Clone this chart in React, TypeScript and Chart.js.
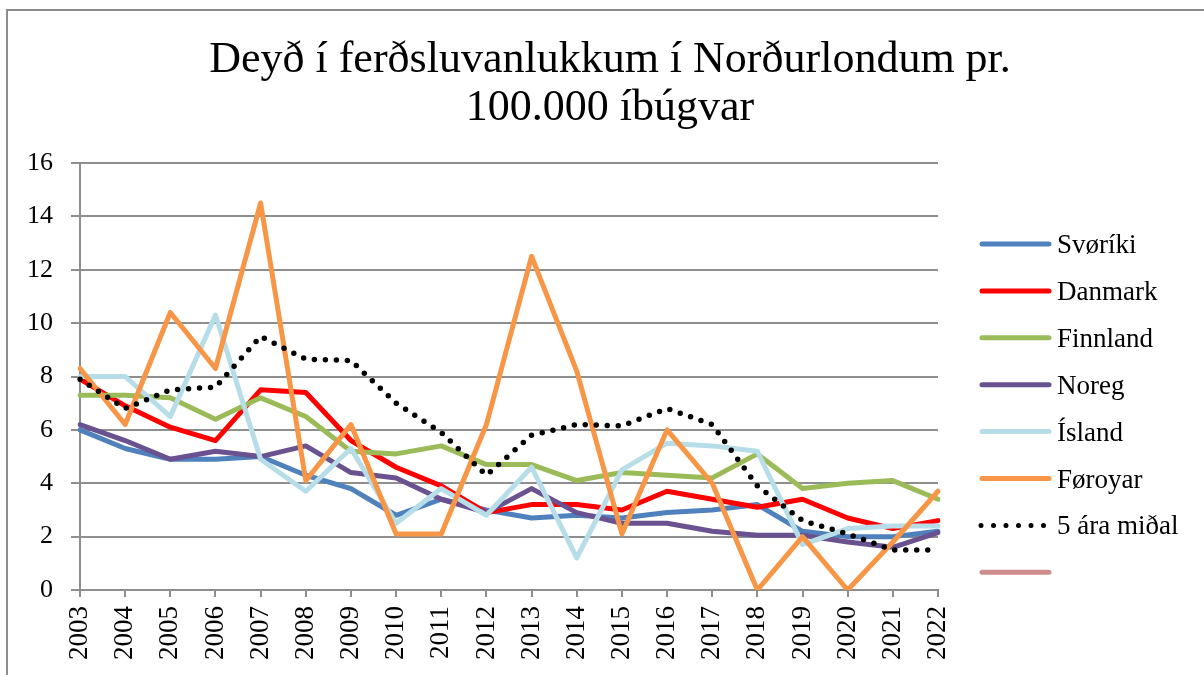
import React, { useEffect, useRef } from "react";
import { Chart, registerables } from "chart.js";

Chart.register(...registerables);

const years = [
  "2003", "2004", "2005", "2006", "2007", "2008", "2009", "2010", "2011", "2012",
  "2013", "2014", "2015", "2016", "2017", "2018", "2019", "2020", "2021", "2022",
];

const titleLines = ["Deyð í ferðsluvanlukkum í Norðurlondum pr.", "100.000 íbúgvar"];

const svoriki = [6.0, 5.3, 4.9, 4.9, 5.0, 4.3, 3.8, 2.8, 3.4, 3.0, 2.7, 2.8, 2.7, 2.9, 3.0, 3.2, 2.2, 2.0, 2.0, 2.2];
const danmark = [7.9, 6.9, 6.1, 5.6, 7.5, 7.4, 5.6, 4.6, 3.9, 2.9, 3.2, 3.2, 3.0, 3.7, 3.4, 3.1, 3.4, 2.7, 2.3, 2.6];
const finnland = [7.3, 7.3, 7.2, 6.4, 7.2, 6.5, 5.2, 5.1, 5.4, 4.7, 4.7, 4.1, 4.4, 4.3, 4.2, 5.1, 3.8, 4.0, 4.1, 3.4];
const noreg = [6.2, 5.6, 4.9, 5.2, 5.0, 5.4, 4.4, 4.2, 3.4, 2.9, 3.8, 2.9, 2.5, 2.5, 2.2, 2.05, 2.05, 1.8, 1.6, 2.15];
const island = [8.0, 8.0, 6.5, 10.3, 4.9, 3.7, 5.3, 2.5, 3.8, 2.8, 4.6, 1.2, 4.5, 5.5, 5.4, 5.2, 1.7, 2.3, 2.4, 2.4];
const foroyar = [8.3, 6.2, 10.4, 8.3, 14.5, 4.1, 6.2, 2.1, 2.1, 6.2, 12.5, 8.2, 2.1, 6.0, 4.0, 0, 2.0, 0, 1.8, 3.7];
const fimmAra = [7.9, 6.8, 7.5, 7.6, 9.5, 8.65, 8.6, 7.0, 5.9, 4.3, 5.8, 6.2, 6.15, 6.8, 6.2, 3.9, 2.6, 2.1, 1.5, 1.5];
const blankSeries: (number | null)[] = [];

const seriesNames = ["Svøríki", "Danmark", "Finnland", "Noreg", "Ísland", "Føroyar", "5 ára miðal", ""];
const seriesValues = [svoriki, danmark, finnland, noreg, island, foroyar, fimmAra, blankSeries];
const seriesColors = ["#4f81bd", "#ff0000", "#9bbb59", "#6a5190", "#b7dee8", "#f79646", "#000000", "#cf8c8c"];

const yTicksMin = 0;
const yTicksMax = 16;
const yTicksStep = 2;

const FONT = "'Liberation Serif', 'Times New Roman', serif";
const GRID = "#8e8e8e";

const decorPlugin = {
  id: "decor",
  beforeDraw(chart: any) {
    const ctx = chart.ctx;
    ctx.save();
    ctx.fillStyle = "#ffffff";
    ctx.fillRect(0, 0, chart.width, chart.height);
    ctx.strokeStyle = "#8c8c8c";
    ctx.lineWidth = 2;
    ctx.strokeRect(7, 10, chart.width + 20, chart.height + 20);
    ctx.restore();
  },
  afterDraw(chart: any) {
    const ctx = chart.ctx;
    ctx.save();
    ctx.fillStyle = "#000000";
    ctx.textAlign = "center";
    ctx.textBaseline = "alphabetic";
    ctx.font = `44px ${FONT}`;
    ctx.fillText(titleLines[0], 610, 72);
    ctx.fillText(titleLines[1], 610, 120);

    chart.data.datasets.forEach((ds: any, i: number) => {
      const y = 244 + i * 46.9;
      ctx.save();
      ctx.strokeStyle = ds.borderColor;
      ctx.lineWidth = 5;
      ctx.lineCap = "round";
      if (ds.borderDash && ds.borderDash.length) {
        ctx.setLineDash([0, 12.5]);
        ctx.beginPath();
        ctx.moveTo(981, y);
        ctx.lineTo(1046, y);
        ctx.stroke();
      } else {
        ctx.setLineDash([]);
        ctx.beginPath();
        ctx.moveTo(982, y);
        ctx.lineTo(1049, y);
        ctx.stroke();
      }
      ctx.restore();
      ctx.font = `27px ${FONT}`;
      ctx.textAlign = "left";
      ctx.fillStyle = "#000000";
      ctx.fillText(ds.label, 1057, y + 9);
    });
    ctx.restore();
  },
};

export default function App() {
  const canvasRef = useRef<HTMLCanvasElement | null>(null);

  useEffect(() => {
    if (!canvasRef.current) return;
    const datasets = seriesValues.map((vals, i) => ({
      label: seriesNames[i],
      data: vals,
      borderColor: seriesColors[i],
      backgroundColor: seriesColors[i],
      borderWidth: i === 6 ? 5.5 : 5,
      borderDash: i === 6 ? [0, 11] : [],
      borderCapStyle: "round" as const,
      borderJoinStyle: "round" as const,
      pointRadius: 0,
      pointHoverRadius: 0,
      tension: 0,
      fill: false,
      order: 20 - i,
    }));

    const chart = new Chart(canvasRef.current, {
      type: "line",
      data: { labels: years, datasets },
      options: {
        responsive: false,
        animation: false,
        devicePixelRatio: 1,
        layout: { padding: { left: 0, top: 163, right: 266, bottom: 0 } },
        plugins: {
          legend: { display: false },
          title: { display: false },
          tooltip: { enabled: false },
        },
        scales: {
          x: {
            type: "category",
            grid: {
              drawOnChartArea: false,
              drawTicks: true,
              tickLength: 7,
              color: GRID,
              lineWidth: 2,
            },
            border: { color: GRID, width: 2 },
            ticks: {
              minRotation: 90,
              maxRotation: 90,
              autoSkip: false,
              padding: 9,
              color: "#000000",
              font: { family: FONT, size: 27 },
            },
            afterFit(scale: any) {
              scale.height = 85;
            },
          },
          y: {
            min: yTicksMin,
            max: yTicksMax,
            ticks: {
              stepSize: yTicksStep,
              padding: 18,
              color: "#000000",
              font: { family: FONT, size: 26 },
            },
            grid: {
              color: GRID,
              lineWidth: 2,
              tickLength: 9,
              drawTicks: true,
            },
            border: { color: GRID, width: 2 },
            afterFit(scale: any) {
              scale.width = 80;
            },
          },
        },
      },
      plugins: [decorPlugin],
    });
    return () => chart.destroy();
  }, []);

  return (
    <div style={{ position: "fixed", left: 0, top: 0, width: 1204, height: 675 }}>
      <canvas ref={canvasRef} width={1204} height={675} style={{ display: "block" }} />
    </div>
  );
}
